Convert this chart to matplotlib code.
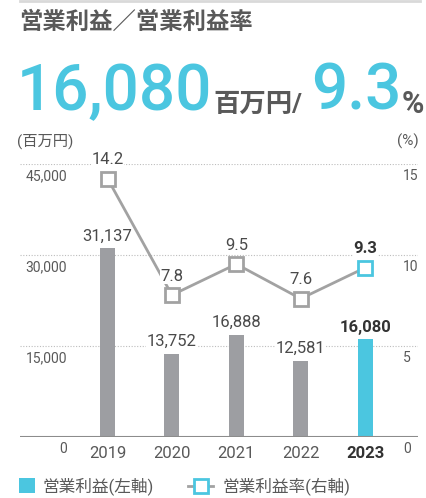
import matplotlib
matplotlib.use("Agg")
import matplotlib.pyplot as plt
from matplotlib.transforms import ScaledTranslation, blended_transform_factory
from matplotlib.patches import Rectangle
from matplotlib.lines import Line2D

plt.rcParams['font.family'] = ['Roboto', 'Noto Sans CJK JP', 'DejaVu Sans']

# ---- data ----
years = ['2019', '2020', '2021', '2022', '2023']
profit = [31137, 13752, 16888, 12581, 16080]          # 百万円 (left axis)
margin = [14.2, 7.8, 9.5, 7.6, 9.3]                   # % (right axis)
profit_labels = ['31,137', '13,752', '16,888', '12,581', '16,080']
margin_labels = ['14.2', '7.8', '9.5', '7.6', '9.3']
left_ticks = [0, 15000, 30000, 45000]
left_ticklabels = ['0', '15,000', '30,000', '45,000']
right_ticks = [0, 5, 10, 15]
right_ticklabels = ['0', '5', '10', '15']
title = '営業利益／営業利益率'
headline_value = '16,080'
headline_unit = '百万円/'
headline_rate = '9.3'
legend_labels = ['営業利益(左軸)', '営業利益率(右軸)']

# ---- style ----
GRAY_BAR = '#9d9ea2'
CYAN = '#4bc6e0'
LINE_GRAY = '#a2a2a2'
TXT = '#595959'
DARK = '#333333'

W, H = 426, 498
fig = plt.figure(figsize=(W / 100, H / 100), dpi=100)

def fx(px):
    return px / W

def fy(py):
    return 1 - py / H

ax = fig.add_axes([fx(20), fy(437), 398 / W, 273 / H])
ax.set_xlim(-1.359, 4.821)
ax.set_ylim(0, 45000)
ax2 = ax.twinx()
ax2.set_ylim(0, 15)
for a in (ax, ax2):
    for s in a.spines.values():
        s.set_visible(False)
    a.set_xticks([])
    a.set_yticks([])
    a.patch.set_visible(False)

# gridlines
for v in left_ticks[1:]:
    ax.axhline(v, color='#bdbdbd', lw=0.8, ls=(0, (1, 1.5)), zorder=0)
ax.axhline(0, color='#8c8c8c', lw=1.5, zorder=3)

# bars
x = list(range(len(years)))
colors = [GRAY_BAR] * 4 + [CYAN]
ax.bar(x, profit, width=0.233, color=colors, zorder=2)

def off(dx_px, dy_px):
    return ScaledTranslation(dx_px / 100, dy_px / 100, fig.dpi_scale_trans)

# bar value labels
for i, (v, lab) in enumerate(zip(profit, profit_labels)):
    last = i == len(years) - 1
    ax.text(i, v, lab, ha='center', va='center', fontsize=12,
            color=DARK if last else '#4a4a4a', fontweight='bold' if last else 'normal',
            transform=ax.transData + off(0, 12), zorder=4,
            bbox=dict(facecolor='white', edgecolor='none', pad=0.5))

# line
ax2.plot(x, margin, color=LINE_GRAY, lw=2, zorder=5, clip_on=False)
for i, m in enumerate(margin):
    ec = CYAN if i == len(years) - 1 else LINE_GRAY
    ax2.plot([i], [m], marker='s', ms=10, mfc='white', mec=ec, mew=2,
             zorder=6, clip_on=False)
for i, (m, lab) in enumerate(zip(margin, margin_labels)):
    last = i == len(years) - 1
    ax2.text(i, m, lab, ha='center', va='center', fontsize=12,
             color=DARK if last else '#4a4a4a', fontweight='bold' if last else 'normal',
             transform=ax2.transData + off(0, 19), zorder=7,
             bbox=dict(facecolor='white', edgecolor='none', pad=0.5))

# year labels
for i, yr in enumerate(years):
    last = i == len(years) - 1
    ax.text(i, 0, yr, ha='center', va='center', fontsize=12,
            color=DARK if last else TXT, fontweight='bold' if last else 'normal',
            transform=ax.transData + off(0, -16))

# axis tick labels
tl = blended_transform_factory(fig.transFigure, ax.transData)
for v, lab in zip(left_ticks, left_ticklabels):
    ax.text(fx(67), v, lab, ha='right', va='center', fontsize=10, color=TXT,
            transform=tl + off(0, -12))
tr = blended_transform_factory(fig.transFigure, ax2.transData)
for v, lab in zip(right_ticks, right_ticklabels):
    ax2.text(fx(403), v, lab, ha='left', va='center', fontsize=10, color=TXT,
             transform=tr + off(0, -12))

# unit labels
fig.text(fx(17), fy(141), '(百万円)', ha='left', va='center', fontsize=11, color=TXT)
fig.text(fx(419), fy(141), '(%)', ha='right', va='center', fontsize=11, color=TXT)

# top rule
fig.add_artist(Line2D([fx(20), fx(420)], [fy(1), fy(1)], color='#d9d9d9', lw=2))

# title
fig.text(fx(19), fy(22), title, ha='left', va='center', fontsize=16.8,
         fontweight='bold', color=TXT, family=['Noto Sans CJK JP'])

# headline
fig.text(fx(17), fy(110), headline_value, ha='left', va='baseline', fontsize=46,
         color=CYAN, fontweight='medium')
fig.text(fx(213), fy(112), headline_unit, ha='left', va='baseline', fontsize=19,
         color=TXT, fontweight='bold')
fig.text(fx(311), fy(110), headline_rate, ha='left', va='baseline', fontsize=46,
         color=CYAN, fontweight='medium')
fig.text(fx(402), fy(113), '%', ha='left', va='baseline', fontsize=22,
         color=TXT, fontweight='bold')

# legend (manual)
fig.add_artist(Rectangle((fx(19), fy(493)), 16 / W, 15 / H,
                         transform=fig.transFigure, facecolor=CYAN, edgecolor='none'))
fig.text(fx(42), fy(486), legend_labels[0], ha='left', va='center', fontsize=12, color=TXT)
fig.add_artist(Line2D([fx(188), fx(213)], [fy(486), fy(486)], color=LINE_GRAY, lw=2))
fig.add_artist(Line2D([fx(201)], [fy(486)], marker='s', ms=10, mfc='white',
                      mec=CYAN, mew=2, color=LINE_GRAY))
fig.text(fx(222), fy(486), legend_labels[1], ha='left', va='center', fontsize=12, color=TXT)

fig.savefig('out.png', dpi=100)
